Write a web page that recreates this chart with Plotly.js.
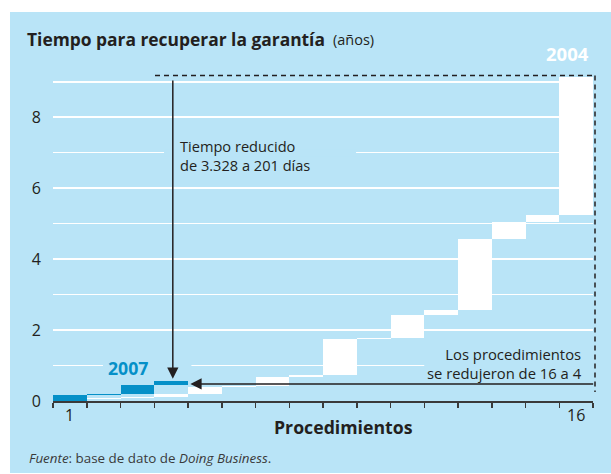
<!DOCTYPE html>
<html>
<head>
<meta charset="utf-8">
<script src="https://cdn.plot.ly/plotly-3.0.1.min.js"></script>
<style>
  html, body { margin: 0; padding: 0; background: #fff; }
  #chart { width: 611px; height: 474px; }
</style>
</head>
<body>
<div id="chart"></div>
<script>
// procedure number on the x axis
var procedures = [1, 2, 3, 4, 5, 6, 7, 8, 9, 10, 11, 12, 13, 14, 15, 16];
var procedures2007 = [1, 2, 3, 4];

// years each procedure adds
var years2004 = [0.05, 0.03, 0.04, 0.07, 0.21, 0.03, 0.26, 0.04, 1.01, 0.03, 0.66, 0.14, 1.99, 0.49, 0.18, 3.89];
var years2007 = [0.17, 0.03, 0.25, 0.10];

var yTickVals = [0, 1, 2, 3, 4, 5, 6, 7, 8, 9];
var yTickText = ['0', '', '2', '', '4', '', '6', '', '8', ''];

var FONT = '"Open Sans", sans-serif';
var INK = '#231f20';
var BG = '#b9e4f7';
var BLUE = '#0590c8';

function bases(steps) {
    var out = [], sum = 0;
    for (var i = 0; i < steps.length; i++) {
        out.push(sum);
        sum += steps[i];
    }
    return out;
}

// margins so the axes land where the original has them
var M = {l: 53, r: 18, t: 64, b: 73};
var W = 611 - M.l - M.r, H = 474 - M.t - M.b;
function px(x) { return (x - M.l) / W; }
function py(y) { return (474 - M.b - y) / H; }

var trace2004 = {
    type: 'bar',
    x: procedures,
    y: years2004,
    base: bases(years2004),
    width: 1,
    marker: {color: '#ffffff', line: {width: 0}},
    name: '2004'
};

var trace2007 = {
    type: 'bar',
    x: procedures2007,
    y: years2007,
    base: bases(years2007),
    width: 1,
    marker: {color: BLUE, line: {width: 0}},
    name: '2007'
};

function txt(text, x, y, size, opts) {
    var a = {
        text: text, x: x, y: y, xref: 'paper', yref: 'paper',
        showarrow: false, font: {family: FONT, size: size, color: INK},
        xanchor: 'left', yanchor: 'middle'
    };
    for (var k in opts) a[k] = opts[k];
    return a;
}

var annotations = [
    txt('<b>Tiempo para recuperar la garantía</b>', px(25), py(39), 17.4),
    txt('(años)', px(331), py(40), 14.5),
    txt('<b>2004</b>', px(591), py(53), 18.5, {xanchor: 'right', font: {family: FONT, size: 18.5, color: '#ffffff'}}),
    txt('<b>2007</b>', px(106), py(368), 17.7, {font: {family: FONT, size: 17.7, color: BLUE}}),
    txt('Tiempo reducido<br>de 3.328 a 201 días', px(178), py(155), 14.6, {align: 'left'}),
    txt('Los procedimientos<br>se redujeron de 16 a 4', px(584), py(363), 14.8, {xanchor: 'right', align: 'right'}),
    txt('<b>Procedimientos</b>', px(343), py(427), 17.7, {xanchor: 'center'}),
    txt('<i>Fuente</i>: base de dato de <i>Doing Business</i>.', px(27), py(458), 13.4, {font: {family: FONT, size: 13.4, color: '#3a3a3a'}}),
    {text: '1', x: 1, y: py(415), xref: 'x', yref: 'paper', showarrow: false,
        font: {family: FONT, size: 16, color: INK}, yanchor: 'middle'},
    {text: '16', x: 16, y: py(415), xref: 'x', yref: 'paper', showarrow: false,
        font: {family: FONT, size: 16, color: INK}, yanchor: 'middle'},
    // vertical arrow: time reduced
    {text: '', x: 4.05, y: 0.63, ax: 4.05, ay: 9.08, xref: 'x', yref: 'y', axref: 'x', ayref: 'y',
        showarrow: true, arrowhead: 2, arrowsize: 1.5, arrowwidth: 1.5, arrowcolor: INK},
    // horizontal arrow: procedures reduced
    {text: '', x: 4.57, y: 0.48, ax: 16.55, ay: 0.48, xref: 'x', yref: 'y', axref: 'x', ayref: 'y',
        showarrow: true, arrowhead: 2, arrowsize: 1.5, arrowwidth: 1.5, arrowcolor: INK}
];

var shapes = [
    // light blue panel
    {type: 'rect', xref: 'paper', yref: 'paper', x0: px(10), x1: px(611), y0: py(12), y1: py(473),
        fillcolor: BG, line: {width: 0}, layer: 'below'},
    // gaps in the gridlines behind the notes
    {type: 'rect', xref: 'x', yref: 'y', x0: 3.79, x1: 9.48, y0: 6.9, y1: 7.1,
        fillcolor: BG, line: {width: 0}, layer: 'between'},
    {type: 'rect', xref: 'x', yref: 'y', x0: 1.98, x1: 4.6, y0: 0.9, y1: 1.1,
        fillcolor: BG, line: {width: 0}, layer: 'between'},
    {type: 'rect', xref: 'x', yref: 'y', x0: 11.5, x1: 16.5, y0: 0.9, y1: 1.1,
        fillcolor: BG, line: {width: 0}, layer: 'between'},
    // dashed frame around the 2004 steps
    {type: 'line', xref: 'paper', yref: 'paper', x0: px(155), x1: px(595), y0: py(75.5), y1: py(75.5),
        line: {color: INK, width: 1.5, dash: '5px,4px'}, layer: 'above'},
    {type: 'line', xref: 'paper', yref: 'paper', x0: px(595), x1: px(595), y0: py(75.5), y1: py(392),
        line: {color: INK, width: 1.5, dash: '5px,4px'}, layer: 'above'}
];

var layout = {
    width: 611,
    height: 474,
    margin: M,
    paper_bgcolor: '#ffffff',
    plot_bgcolor: 'rgba(0,0,0,0)',
    showlegend: false,
    barmode: 'overlay',
    bargap: 0,
    hovermode: false,
    font: {family: FONT, color: INK},
    xaxis: {
        range: [0.5, 16.5],
        tickvals: [0.5, 1.5, 2.5, 3.5, 4.5, 5.5, 6.5, 7.5, 8.5, 9.5, 10.5, 11.5, 12.5, 13.5, 14.5, 15.5, 16.5],
        showticklabels: false,
        ticks: 'outside', ticklen: 5, tickwidth: 1.5, tickcolor: '#3a3a3a',
        showline: true, linecolor: '#3a3a3a', linewidth: 1.5,
        showgrid: false, zeroline: false, fixedrange: true
    },
    yaxis: {
        range: [0, 9.5],
        tickvals: yTickVals,
        ticktext: yTickText,
        ticks: '', ticklabelstandoff: 11,
        tickfont: {family: FONT, size: 16, color: INK},
        showgrid: true, gridcolor: '#ffffff', gridwidth: 1.6,
        showline: false, zeroline: false, fixedrange: true
    },
    shapes: shapes,
    annotations: annotations
};

Plotly.newPlot('chart', [trace2004, trace2007], layout, {staticPlot: true, displayModeBar: false});
</script>
</body>
</html>
